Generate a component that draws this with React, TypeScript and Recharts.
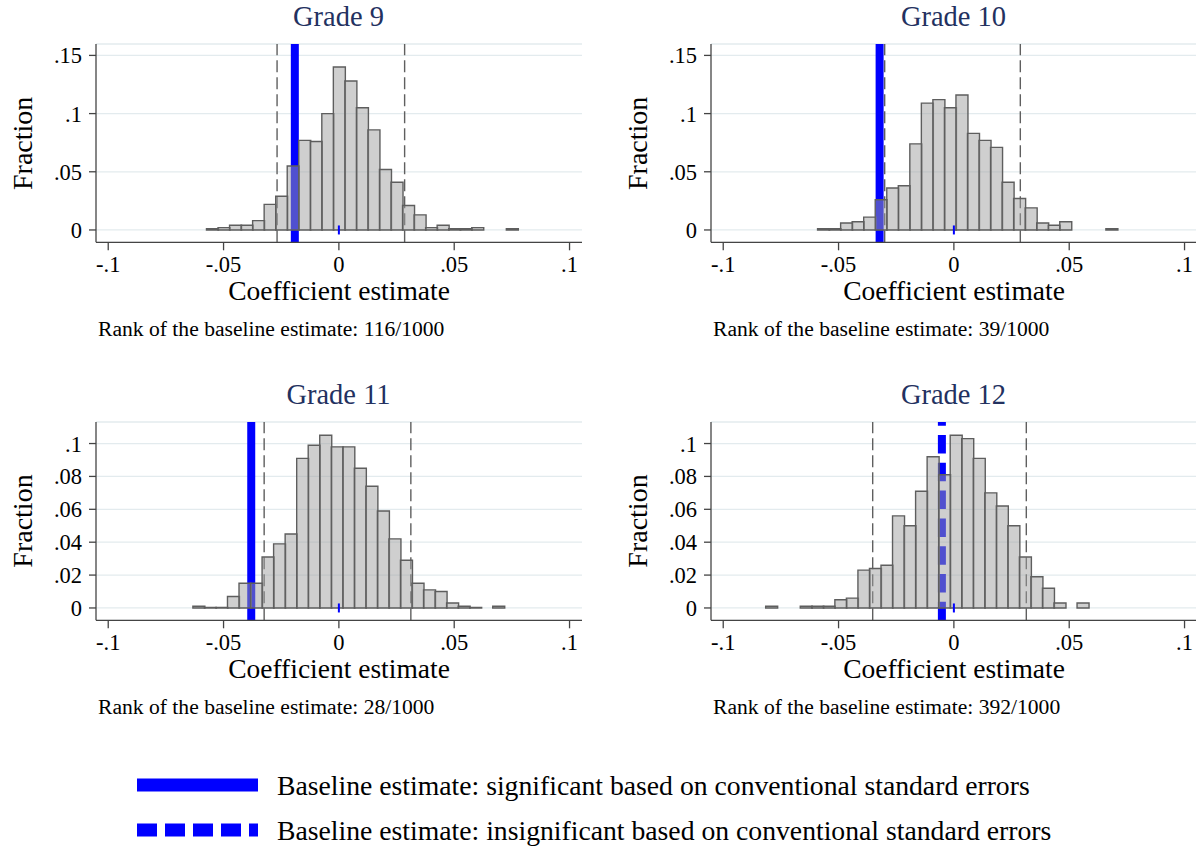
import React from 'react';
import {
  ComposedChart,
  Bar,
  XAxis,
  YAxis,
  CartesianGrid,
  ReferenceLine,
  ReferenceDot,
} from 'recharts';

const FONT = '"Liberation Serif", "Times New Roman", serif';

// ---------- data (bin midpoints and fractions) ----------
const g9Bins = [
  -0.0549, -0.0499, -0.0449, -0.0399, -0.0349, -0.0299, -0.0249, -0.0199, -0.0149,
  -0.0099, -0.0049, 0.0001, 0.0051, 0.0101, 0.0151, 0.0201, 0.0251, 0.0301, 0.0351,
  0.0401, 0.0451, 0.0501, 0.0551, 0.0601, 0.0651, 0.0701, 0.0751,
];
const g9Fraction = [
  0.001, 0.002, 0.004, 0.004, 0.008, 0.022, 0.029, 0.055, 0.077,
  0.076, 0.1, 0.14, 0.128, 0.105, 0.086, 0.052, 0.041, 0.021, 0.013,
  0.002, 0.004, 0.001, 0.001, 0.002, null, null, 0.001,
];

const g10Bins = [
  -0.0566, -0.0516, -0.0466, -0.0416, -0.0366, -0.0316, -0.0266, -0.0216, -0.0166,
  -0.0116, -0.0066, -0.0016, 0.0034, 0.0084, 0.0134, 0.0184, 0.0234, 0.0284, 0.0334,
  0.0384, 0.0434, 0.0484, 0.0534, 0.0584, 0.0634, 0.0684,
];
const g10Fraction = [
  0.001, 0.001, 0.006, 0.007, 0.011, 0.026, 0.036, 0.038, 0.074,
  0.109, 0.112, 0.105, 0.116, 0.083, 0.077, 0.071, 0.041, 0.027, 0.019,
  0.006, 0.004, 0.007, null, null, null, 0.001,
];

const g11Bins = [
  -0.0608, -0.0558, -0.0508, -0.0458, -0.0408, -0.0358, -0.0308, -0.0258, -0.0208,
  -0.0158, -0.0108, -0.0058, -0.0008, 0.0042, 0.0092, 0.0142, 0.0192, 0.0242, 0.0292,
  0.0342, 0.0392, 0.0442, 0.0492, 0.0542, 0.0592, 0.0642, 0.0692,
];
const g11Fraction = [
  0.001, 0.0003, 0.0003, 0.007, 0.015, 0.015, 0.031, 0.039, 0.045,
  0.091, 0.099, 0.105, 0.098, 0.098, 0.085, 0.074, 0.059, 0.042, 0.029,
  0.015, 0.011, 0.01, 0.003, 0.001, 0.0003, null, 0.001,
];

const g12Bins = [
  -0.0791, -0.0741, -0.0691, -0.0641, -0.0591, -0.0541, -0.0491, -0.0441, -0.0391,
  -0.0341, -0.0291, -0.0241, -0.0191, -0.0141, -0.0091, -0.0041, 0.0009, 0.0059,
  0.0109, 0.0159, 0.0209, 0.0259, 0.0309, 0.0359, 0.0409, 0.0459, 0.0509, 0.0559,
];
const g12Fraction = [
  0.001, null, null, 0.001, 0.001, 0.001, 0.005, 0.006, 0.023,
  0.024, 0.026, 0.056, 0.05, 0.071, 0.092, 0.081, 0.105, 0.103,
  0.091, 0.07, 0.062, 0.05, 0.031, 0.019, 0.012, 0.003, null, 0.003,
];

const titles = ['Grade 9', 'Grade 10', 'Grade 11', 'Grade 12'];
const ranks = ['116/1000', '39/1000', '28/1000', '392/1000'];
const baselineEstimate = [-0.0191, -0.0322, -0.038, -0.0052];
const baselineSignificant = [true, true, true, false];
const ciLower = [-0.0268, -0.03, -0.0324, -0.0352];
const ciUpper = [0.0285, 0.0288, 0.0312, 0.0314];

const xTicks = [-0.1, -0.05, 0, 0.05, 0.1];
const yTicksTop = [0, 0.05, 0.1, 0.15];
const yTicksBottom = [0, 0.02, 0.04, 0.06, 0.08, 0.1];
const legendLabels = [
  'Baseline estimate: significant based on conventional standard errors',
  'Baseline estimate: insignificant based on conventional standard errors',
];

// ---------- layout ----------
const X_DOMAIN: [number, number] = [-0.1053, 0.1054];
const Y_DOMAIN_TOP: [number, number] = [-0.0106, 0.1598];
const Y_DOMAIN_BOTTOM: [number, number] = [-0.0075, 0.1131];
const PANEL_W = 598;
const PANEL_H = 310.3;
const DX = 615;
const DY = 377.7;

const fmt = (v: number) => {
  if (v === 0) return '0';
  return String(v).replace('0.', '.');
};

const tickStyle = { fontSize: 22.5, fill: '#000', fontFamily: FONT };

type PanelProps = {
  left: number;
  top: number;
  bins: number[];
  fractions: (number | null)[];
  yTicks: number[];
  yDomain: [number, number];
  base: number;
  sig: boolean;
  lo: number;
  hi: number;
};

function Panel({ left, top, bins, fractions, yTicks, yDomain, base, sig, lo, hi }: PanelProps) {
  const data = bins.map((x, i) => ({ x, f: fractions[i] }));
  return (
    <div style={{ position: 'absolute', left, top, width: PANEL_W, height: PANEL_H }}>
      <ComposedChart
        width={PANEL_W}
        height={PANEL_H}
        data={data}
        margin={{ top: 44, right: 16, bottom: 0, left: 0 }}
        barCategoryGap={0}
        barGap={0}
      >
        <CartesianGrid horizontal vertical={false} stroke="#e3ebee" strokeWidth={1.3} />
        <XAxis
          dataKey="x"
          type="number"
          domain={X_DOMAIN}
          allowDataOverflow
          ticks={xTicks}
          interval={0}
          tickFormatter={fmt}
          height={68}
          tickSize={8}
          tickMargin={6}
          stroke="#444"
          strokeWidth={1.3}
          tick={tickStyle}
        />
        <YAxis
          type="number"
          domain={yDomain}
          allowDataOverflow
          ticks={yTicks}
          interval={0}
          tickFormatter={fmt}
          width={96}
          tickSize={7}
          tickMargin={7}
          stroke="#444"
          strokeWidth={1.3}
          tick={tickStyle}
        />
        <ReferenceLine
          x={base}
          stroke="#0000ff"
          strokeWidth={8}
          strokeDasharray={sig ? undefined : '18.5 9.3'}
          zIndex={50}
        />
        <ReferenceLine x={lo} stroke="#5f5f5f" strokeWidth={1.4} strokeDasharray="12 5" zIndex={50} />
        <ReferenceLine x={hi} stroke="#5f5f5f" strokeWidth={1.4} strokeDasharray="12 5" zIndex={50} />
        <Bar
          dataKey="f"
          fill="#a0a0a0"
          fillOpacity={0.5}
          stroke="#5e5e5e"
          strokeWidth={1.4}
          isAnimationActive={false}
        />
        <ReferenceDot
          x={0}
          y={0}
          r={1}
          zIndex={1000}
          shape={(p: any) => (
            <rect x={p.cx - 1} y={p.cy - 4.5} width={2} height={9} fill="#0000ff" />
          )}
        />
      </ComposedChart>
    </div>
  );
}

export default function App() {
  const panels = [
    { bins: g9Bins, fr: g9Fraction, yTicks: yTicksTop, yDomain: Y_DOMAIN_TOP },
    { bins: g10Bins, fr: g10Fraction, yTicks: yTicksTop, yDomain: Y_DOMAIN_TOP },
    { bins: g11Bins, fr: g11Fraction, yTicks: yTicksBottom, yDomain: Y_DOMAIN_BOTTOM },
    { bins: g12Bins, fr: g12Fraction, yTicks: yTicksBottom, yDomain: Y_DOMAIN_BOTTOM },
  ];
  return (
    <div
      style={{
        position: 'absolute',
        left: 0,
        top: 0,
        width: 1196,
        height: 846,
        overflow: 'hidden',
        background: '#fff',
        fontFamily: FONT,
      }}
    >
      {panels.map((p, i) => (
        <Panel
          key={i}
          left={(i % 2) * DX}
          top={Math.floor(i / 2) * DY}
          bins={p.bins}
          fractions={p.fr}
          yTicks={p.yTicks}
          yDomain={p.yDomain}
          base={baselineEstimate[i]}
          sig={baselineSignificant[i]}
          lo={ciLower[i]}
          hi={ciUpper[i]}
        />
      ))}
      <svg
        width={1196}
        height={846}
        style={{ position: 'absolute', left: 0, top: 0, pointerEvents: 'none' }}
      >
        {titles.map((t, i) => {
          const ox = (i % 2) * DX;
          const oy = Math.floor(i / 2) * DY;
          return (
            <g key={t} fontFamily={FONT}>
              <text x={338.5 + ox} y={26 + oy} textAnchor="middle" fontSize={28.5} fill="#233160">
                {t}
              </text>
              <text
                transform={`translate(${31.5 + ox}, ${143.3 + oy}) rotate(-90)`}
                textAnchor="middle"
                fontSize={28}
                fill="#000"
              >
                Fraction
              </text>
              <text x={339 + ox} y={300 + oy} textAnchor="middle" fontSize={27.5} fill="#000">
                Coefficient estimate
              </text>
              <text x={98 + ox} y={336 + oy} fontSize={21.6} fill="#000">
                {`Rank of the baseline estimate: ${ranks[i]}`}
              </text>
            </g>
          );
        })}
        <g fontFamily={FONT}>
          <line x1={137} x2={258} y1={785} y2={785} stroke="#0000ff" strokeWidth={13} />
          <text x={277} y={795} fontSize={27.7} fill="#000">
            {legendLabels[0]}
          </text>
          <line
            x1={137}
            x2={258}
            y1={830}
            y2={830}
            stroke="#0000ff"
            strokeWidth={13}
            strokeDasharray="20 8"
          />
          <text x={277} y={840} fontSize={27.7} fill="#000">
            {legendLabels[1]}
          </text>
        </g>
      </svg>
    </div>
  );
}
